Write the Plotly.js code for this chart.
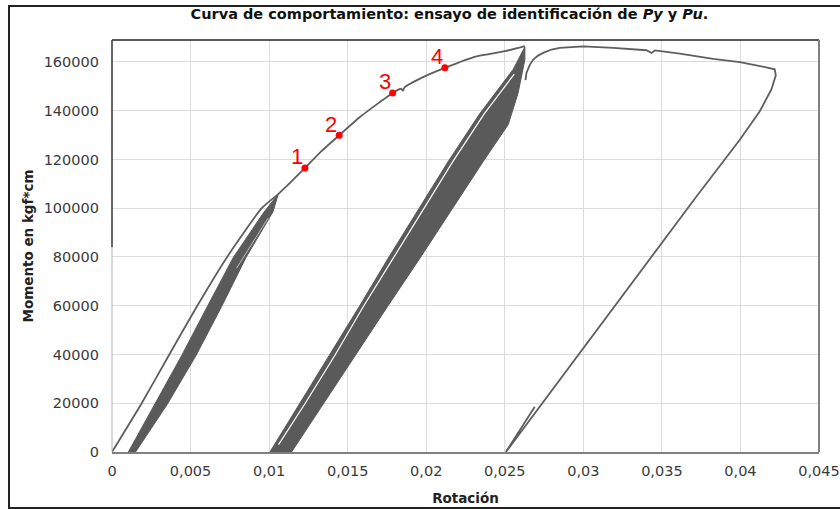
<!DOCTYPE html>
<html><head><meta charset="utf-8">
<script src="https://cdn.plot.ly/plotly-3.0.1.min.js"></script>
<style>
html,body{margin:0;padding:0;background:#fff;}
#wrap{position:relative;width:840px;height:509px;overflow:hidden;}
#chart{width:840px;height:509px;}
#frame{position:absolute;left:8px;top:5px;width:840px;height:500px;border:2px solid #222;pointer-events:none;}
</style></head>
<body><div id="wrap"><div id="chart"></div><div id="frame"></div></div>
<script>
// Envelope: first loading + backbone up to second peak
const envX = [0, 0.00189, 0.00365, 0.00543, 0.00733, 0.00953, 0.01058, 0.01154, 0.01228, 0.01335, 0.01446, 0.0158, 0.0170, 0.01786, 0.0184, 0.01852, 0.01862, 0.0200, 0.02119, 0.0232, 0.0250, 0.02628];
const envY = [0, 20000, 40000, 60000, 80000, 100000, 105800, 111700, 116500, 123500, 129900, 137500, 143300, 147300, 149000, 148200, 149600, 154400, 157600, 162300, 164400, 166500];

// First cyclic band (outline)
const band1X = [0.00104, 0.00274, 0.00443, 0.00607, 0.00772, 0.00963, 0.01058, 0.01026, 0.00853, 0.00698, 0.00534, 0.00352, 0.00150];
const band1Y = [0, 19600, 39500, 59700, 79800, 98000, 105800, 98700, 79800, 59700, 39500, 19600, 0];
const gap1X = [0.00793, 0.00994];
const gap1Y = [75400, 96000];

// Second cyclic band (outline)
const band2X = [0.01005, 0.01196, 0.01387, 0.01574, 0.01758, 0.01949, 0.02140, 0.02341, 0.02553, 0.02628, 0.02628, 0.02585, 0.02522, 0.02363, 0.02163, 0.01960, 0.01754, 0.01550, 0.01345, 0.01143];
const band2Y = [0, 20000, 39800, 59700, 79500, 99400, 119200, 138800, 156900, 166200, 161000, 147300, 134300, 119200, 99400, 79500, 59700, 39800, 20000, 0];
const gap2X = [0.0106, 0.0123, 0.0142, 0.0160, 0.0179, 0.0198, 0.0217, 0.0237, 0.0256];
const gap2Y = [3000, 20000, 39800, 59700, 79500, 99400, 119200, 138800, 155000];

// Final branch: reloading, peak, unloading and short reload
const tailX = [0.02632, 0.02638, 0.0266, 0.02681, 0.02712, 0.02744, 0.02798, 0.0285, 0.0300, 0.0319, 0.03402, 0.03434, 0.03455, 0.03614, 0.03826, 0.03996, 0.04150, 0.04218, 0.04225, 0.04197, 0.04123, 0.03996, 0.0372, 0.02507, 0.02691];
const tailY = [152500, 155500, 158900, 161000, 162600, 163700, 165100, 165800, 166400, 165800, 164800, 163700, 164700, 163400, 161300, 159900, 158000, 157000, 154500, 148700, 139800, 128100, 104800, 0, 18600];

// Identified points
const ptX = [0.01228, 0.01446, 0.01786, 0.02119];
const ptY = [116500, 129900, 147300, 157600];
const ptLabels = ['1', '2', '3', '4'];

// Axis ticks
const xTickVals = [0, 0.005, 0.01, 0.015, 0.02, 0.025, 0.03, 0.035, 0.04, 0.045];
const xTickText = ['0', '0,005', '0,01', '0,015', '0,02', '0,025', '0,03', '0,035', '0,04', '0,045'];
const yTickVals = [0, 20000, 40000, 60000, 80000, 100000, 120000, 140000, 160000];

const gray = '#5e5e5e';
const traces = [
  {x: band1X, y: band1Y, type: 'scatter', mode: 'lines', fill: 'toself', fillcolor: '#5a5a5a', line: {color: '#5a5a5a', width: 1}, hoverinfo: 'skip'},
  {x: gap1X, y: gap1Y, type: 'scatter', mode: 'lines', line: {color: 'rgba(255,255,255,0.6)', width: 1}, hoverinfo: 'skip'},
  {x: band2X, y: band2Y, type: 'scatter', mode: 'lines', fill: 'toself', fillcolor: '#5a5a5a', line: {color: '#5a5a5a', width: 1}, hoverinfo: 'skip'},
  {x: gap2X, y: gap2Y, type: 'scatter', mode: 'lines', line: {color: '#ffffff', width: 1.2}, hoverinfo: 'skip'},
  {x: envX, y: envY, type: 'scatter', mode: 'lines', line: {color: gray, width: 1.8, shape: 'spline', smoothing: 0.5}},
  {x: tailX, y: tailY, type: 'scatter', mode: 'lines', line: {color: gray, width: 1.8}},
  {x: ptX, y: ptY, type: 'scatter', mode: 'markers', marker: {color: '#ff0000', size: 7}}
];

const annotations = ptLabels.map((t, i) => ({
  x: ptX[i], y: ptY[i], xref: 'x', yref: 'y', text: t, showarrow: false,
  xshift: -8, yshift: 11, font: {color: '#ff0000', size: 22, family: 'Liberation Sans, Arial'}
}));

const layout = {
  width: 840, height: 509,
  margin: {l: 112, r: 21, t: 40, b: 57},
  paper_bgcolor: '#ffffff', plot_bgcolor: '#ffffff',
  showlegend: false,
  font: {family: 'DejaVu Sans', size: 13, color: '#3a3a3a'},
  title: {text: 'Curva de comportamiento: ensayo de identificación de <i>Py</i> y <i>Pu</i>.',
    font: {family: 'DejaVu Sans', size: 14.5, color: '#111', weight: 'bold'}, x: 0.535, xanchor: 'center', y: 0.972, yanchor: 'middle'},
  xaxis: {range: [0, 0.045], tickvals: xTickVals, ticktext: xTickText, showgrid: true, gridcolor: '#dcdcdc', gridwidth: 1,
    zeroline: false, showline: true, linecolor: '#808080', linewidth: 2, ticks: '', ticklabelstandoff: 5,
    tickfont: {size: 14.5, color: '#3a3a3a'},
    title: {text: '<b>Rotación</b>', font: {size: 13.5, color: '#222'}, standoff: 15}},
  yaxis: {range: [0, 169000], tickvals: yTickVals, tickformat: 'd', showgrid: true, gridcolor: '#dcdcdc', gridwidth: 1,
    zeroline: false, showline: false, ticks: '', ticklabelstandoff: 12,
    tickfont: {size: 14.5, color: '#3a3a3a'},
    title: {text: '<b>Momento en kgf*cm</b>', font: {size: 13.5, color: '#222'}, standoff: 6}},
  annotations: annotations,
  shapes: [
    {type: 'line', xref: 'paper', yref: 'paper', x0: 0, x1: 1.0, y0: 1, y1: 1, line: {color: '#222', width: 1.5}},
    {type: 'line', xref: 'paper', yref: 'paper', x0: 1, x1: 1, y0: 0, y1: 1, line: {color: '#808080', width: 2}},
    {type: 'line', xref: 'paper', yref: 'paper', x0: 0, x1: 0, y0: 0.497, y1: 1, line: {color: '#333', width: 1.5}},
    {type: 'line', xref: 'paper', yref: 'paper', x0: 0, x1: 0, y0: 0, y1: 0.497, line: {color: '#b0b0b0', width: 1}}
  ]
};

Plotly.newPlot('chart', traces, layout, {displayModeBar: false, staticPlot: true});
</script>
</body></html>
